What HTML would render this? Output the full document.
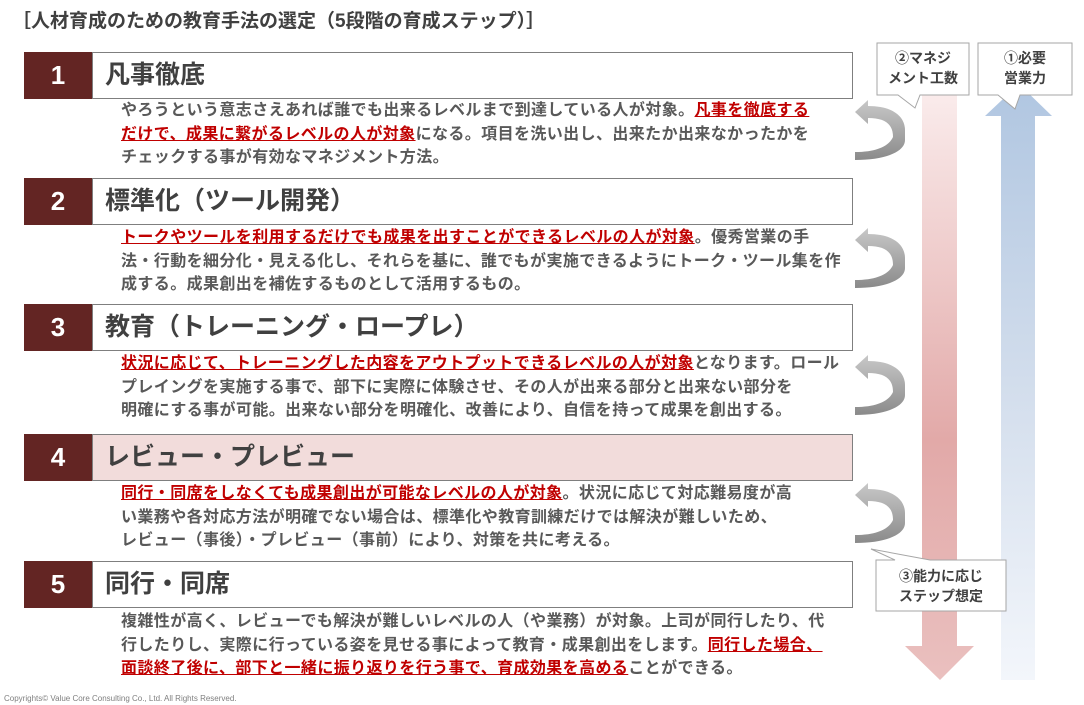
<!DOCTYPE html>
<html><head><meta charset="utf-8"><style>
body{margin:0;width:1084px;height:705px;background:#fff;position:relative;overflow:hidden;font-family:"Liberation Sans","Noto Sans CJK JP",sans-serif;}
.a{position:absolute;}
.num{position:absolute;left:24px;width:68px;height:47px;background:#632523;color:#fff;font-size:26px;font-weight:bold;text-align:center;line-height:47px;}
.hd{position:absolute;left:92px;width:747px;height:45px;border:1px solid #7f7f7f;background:#fff;color:#404040;font-size:25px;font-weight:bold;line-height:45px;padding-left:12px;box-sizing:content-box;}
.tx{position:absolute;left:121px;font-size:16px;line-height:23.5px;color:#595959;white-space:nowrap;letter-spacing:0.4px;font-weight:bold;}
.r{color:#c00000;text-decoration:underline;}
.co{position:absolute;color:#404040;font-size:14px;font-weight:bold;text-align:center;line-height:20px;}
</style></head><body>
<div class="a" style="left:12px;top:6px;font-size:19px;color:#404040;font-weight:bold;">［人材育成のための教育手法の選定（5段階の育成ステップ）］</div>

<svg class="a" style="left:0;top:0" width="1084" height="705">
<defs>
<linearGradient id="pg" x1="0" y1="0" x2="0" y2="1"><stop offset="0" stop-color="#fbeeee"/><stop offset="0.6" stop-color="#e2a9a8"/><stop offset="1" stop-color="#eac0bf"/></linearGradient>
<linearGradient id="bg" x1="0" y1="0" x2="0" y2="1"><stop offset="0" stop-color="#b0c6e1"/><stop offset="0.5" stop-color="#d2ddec"/><stop offset="1" stop-color="#f3f6fb"/></linearGradient>
<linearGradient id="cg" x1="0" y1="0" x2="0" y2="1"><stop offset="0" stop-color="#c8c8c8"/><stop offset="1" stop-color="#8a8a8a"/></linearGradient>
<g id="ca"><path d="M0,0 L13,-12 L13,-6 C40,-6 50,6 50,18 L50,28 C50,40 30,48 0,48 L0,40 C25,40 35,32 38,25 C38,12 30,6 13,6 L13,12 Z" fill="url(#cg)"/></g>
</defs>
<polygon points="922,80 957,80 957,646 974,646 940,680 905,646 922,646" fill="url(#pg)"/>
<polygon points="1019,84 1052,116 1035,116 1035,680 1001,680 1001,116 985,116" fill="url(#bg)"/>
<use href="#ca" x="855" y="112"/>
<use href="#ca" x="855" y="240"/>
<use href="#ca" x="855" y="367"/>
<use href="#ca" x="855" y="495"/>
<polygon points="877,43 969,43 969,95 920,95 915,108 898,95 877,95" fill="#fff" stroke="#a6a6a6"/>
<polygon points="978,43 1072,43 1072,95 1020,95 1015,109 998,95 978,95" fill="#fff" stroke="#a6a6a6"/>
<polygon points="876,560 895,560 871,549 930,560 1006,560 1006,611 876,611" fill="#fff" stroke="#a6a6a6"/>
</svg>
<div class="co" style="left:877px;top:48px;width:92px;">②マネジ<br>メント工数</div>
<div class="co" style="left:978px;top:48px;width:94px;">①必要<br>営業力</div>
<div class="co" style="left:876px;top:566px;width:130px;">③能力に応じ<br>ステップ想定</div>

<div class="num" style="top:52px">1</div><div class="hd" style="top:52px">凡事徹底</div>
<div class="tx" style="top:99px">やろうという意志さえあれば誰でも出来るレベルまで到達している人が対象。<span class="r">凡事を徹底する</span><br><span class="r">だけで、成果に繋がるレベルの人が対象</span>になる。項目を洗い出し、出来たか出来なかったかを<br>チェックする事が有効なマネジメント方法。</div>

<div class="num" style="top:178px">2</div><div class="hd" style="top:178px">標準化（ツール開発）</div>
<div class="tx" style="top:226px"><span class="r">トークやツールを利用するだけでも成果を出すことができるレベルの人が対象</span>。優秀営業の手<br>法・行動を細分化・見える化し、それらを基に、誰でもが実施できるようにトーク・ツール集を作<br>成する。成果創出を補佐するものとして活用するもの。</div>

<div class="num" style="top:304px">3</div><div class="hd" style="top:304px">教育（トレーニング・ロープレ）</div>
<div class="tx" style="top:352px"><span class="r">状況に応じて、トレーニングした内容をアウトプットできるレベルの人が対象</span>となります。ロール<br>プレイングを実施する事で、部下に実際に体験させ、その人が出来る部分と出来ない部分を<br>明確にする事が可能。出来ない部分を明確化、改善により、自信を持って成果を創出する。</div>

<div class="num" style="top:434px">4</div><div class="hd" style="top:434px;background:#f2dcdb">レビュー・プレビュー</div>
<div class="tx" style="top:482px"><span class="r">同行・同席をしなくても成果創出が可能なレベルの人が対象</span>。状況に応じて対応難易度が高<br>い業務や各対応方法が明確でない場合は、標準化や教育訓練だけでは解決が難しいため、<br>レビュー（事後）・プレビュー（事前）により、対策を共に考える。</div>

<div class="num" style="top:561px">5</div><div class="hd" style="top:561px">同行・同席</div>
<div class="tx" style="top:610px">複雑性が高く、レビューでも解決が難しいレベルの人（や業務）が対象。上司が同行したり、代<br>行したりし、実際に行っている姿を見せる事によって教育・成果創出をします。<span class="r">同行した場合、</span><br><span class="r">面談終了後に、部下と一緒に振り返りを行う事で、育成効果を高める</span>ことができる。</div>

<div class="a" style="left:4px;top:694px;font-size:8px;color:#7f7f7f;">Copyrights© Value Core Consulting Co., Ltd. All Rights Reserved.</div>
</body></html>
